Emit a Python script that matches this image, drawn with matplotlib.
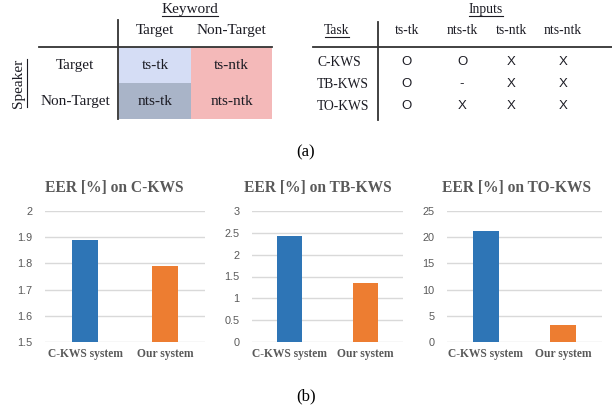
import matplotlib
matplotlib.use('Agg')
import matplotlib.pyplot as plt
from matplotlib.patches import Rectangle
from matplotlib.ticker import FuncFormatter

# data
systems = ['C-KWS system', 'Our system']
tasks = ['C-KWS', 'TB-KWS', 'TO-KWS']
eer_ckws = [1.89, 1.79]
eer_tbkws = [2.42, 1.34]
eer_tokws = [21.1, 3.3]
y_limits = [(1.5, 2.0), (0, 3), (0, 25)]
y_steps = [0.1, 0.5, 5]

cond_cols = ['Target', 'Non-Target']
cond_rows = ['Target', 'Non-Target']
cond_cells = [['ts-tk', 'ts-ntk'], ['nts-tk', 'nts-ntk']]
cell_colors = [['#d5ddf5', '#f4b9b9'], ['#a9b4c8', '#f4b9b9']]

input_cols = ['ts-tk', 'nts-tk', 'ts-ntk', 'nts-ntk']
input_marks = [['O', 'O', 'X', 'X'],
               ['O', '-', 'X', 'X'],
               ['O', 'X', 'X', 'X']]

SERIF = 'Liberation Serif'
SANS = 'Liberation Sans'
INK = '#1c1c24'
GRAY = '#595959'

fig = plt.figure(figsize=(6.12, 4.12), dpi=100)
bg = fig.add_axes([0, 0, 1, 1])
bg.set_xlim(0, 612)
bg.set_ylim(412, 0)
bg.axis('off')


def underline(t, at, vertical=False):
    # line under a text item, at a fixed offset position
    fig.canvas.draw()
    bb = t.get_window_extent().transformed(bg.transData.inverted())
    if vertical:
        y0, y1 = sorted([bb.y0, bb.y1])
        bg.plot([at, at], [y0 + 0.5, y1 - 0.5], color=INK, lw=0.8)
    else:
        x0, x1 = sorted([bb.x0, bb.x1])
        bg.plot([x0 + 0.5, x1 - 0.5], [at, at], color=INK, lw=0.8)


# ---- panel (a) left: speaker / keyword grid
t = bg.text(190, 9, 'Keyword', ha='center', va='center', fontsize=11, family=SERIF, color=INK)
underline(t, 16)
col_x = [155, 231]
row_y = [65, 101]
cell_x = [119, 191, 272]
cell_y = [47, 83, 119]
for j, c in enumerate(cond_cols):
    bg.text(col_x[j], 30, c, ha='center', va='center', fontsize=11, family=SERIF, color=INK)
for i, r in enumerate(cond_rows):
    bg.text(75, row_y[i], r, ha='center', va='center', fontsize=11, family=SERIF, color=INK)
    for j in range(2):
        bg.add_patch(Rectangle((cell_x[j], cell_y[i]), cell_x[j + 1] - cell_x[j],
                               cell_y[i + 1] - cell_y[i], color=cell_colors[i][j], lw=0))
        bg.text((cell_x[j] + cell_x[j + 1]) / 2, row_y[i], cond_cells[i][j], ha='center',
                va='center', fontsize=11, family=SERIF, color=INK)
t = bg.text(19, 83, 'Speaker', ha='center', va='center', rotation=90, fontsize=11,
            family=SERIF, color=INK)
underline(t, 27, vertical=True)
bg.plot([118, 118], [20, 119], color='#333333', lw=1.3)
bg.plot([39, 272], [47, 47], color='#333333', lw=1.3)

# ---- panel (a) right: task / inputs table
t = bg.text(486, 9, 'Inputs', ha='center', va='center', fontsize=9.8, family=SERIF, color=INK)
underline(t, 15.5)
t = bg.text(337, 30, 'Task', ha='center', va='center', fontsize=9.8, family=SERIF, color=INK)
underline(t, 37)
in_x = [407, 462, 511, 563]
in_y = [62, 84, 106]
for j, c in enumerate(input_cols):
    bg.text(in_x[j], 30, c, ha='center', va='center', fontsize=9.8, family=SERIF, color=INK)
for i, task in enumerate(tasks):
    bg.text(317, in_y[i], task, ha='left', va='center', fontsize=9.8, family=SERIF, color=INK)
    for j, m in enumerate(input_marks[i]):
        bg.text(in_x[j], in_y[i], m, ha='center', va='center', fontsize=9.5, family=SANS, color=INK)
bg.plot([378, 378], [22, 120], color='#333333', lw=1.3)
bg.plot([313, 612], [47, 47], color='#333333', lw=1.3)

bg.text(306, 152, '(a)', ha='center', va='center', fontsize=12, family=SERIF, color='black')

# ---- panel (b): bar charts
eers = [eer_ckws, eer_tbkws, eer_tokws]
ax_x = [(45, 205), (252, 403), (447, 602)]
title_x = [114, 318, 516]
top, bottom = 211, 342
for k in range(3):
    x0, x1 = ax_x[k]
    ax = fig.add_axes([x0 / 612, 1 - bottom / 412, (x1 - x0) / 612, (bottom - top) / 412])
    ax.bar([0, 1], eers[k], width=0.33, color=['#2e75b6', '#ed7d31'], zorder=3)
    lo, hi = y_limits[k]
    n = int(round((hi - lo) / y_steps[k]))
    ax.set_yticks([lo + y_steps[k] * i for i in range(n + 1)])
    ax.yaxis.set_major_formatter(FuncFormatter(lambda v, p: '%g' % round(v, 2)))
    ax.set_ylim(lo, hi)
    ax.set_xlim(-0.5, 1.5)
    ax.set_xticks([0, 1])
    ax.set_xticklabels(systems, family=SERIF, fontweight='bold', fontsize=8.3, color=GRAY)
    ax.grid(axis='y', color='#d9d9d9', lw=1, zorder=0)
    for s in ax.spines.values():
        s.set_visible(False)
    ax.tick_params(length=0)
    ax.tick_params(axis='y', pad=9, labelsize=7.8, labelcolor=GRAY)
    ax.tick_params(axis='x', pad=4)
    for lab in ax.get_yticklabels():
        lab.set_family(SANS)
    bg.text(title_x[k], 188, 'EER [%] on ' + tasks[k], ha='center', va='center', fontsize=11.2,
            family=SERIF, fontweight='bold', color=GRAY)

bg.text(306, 396, '(b)', ha='center', va='center', fontsize=12, family=SERIF, color='black')

fig.savefig('out.png', dpi=100)
